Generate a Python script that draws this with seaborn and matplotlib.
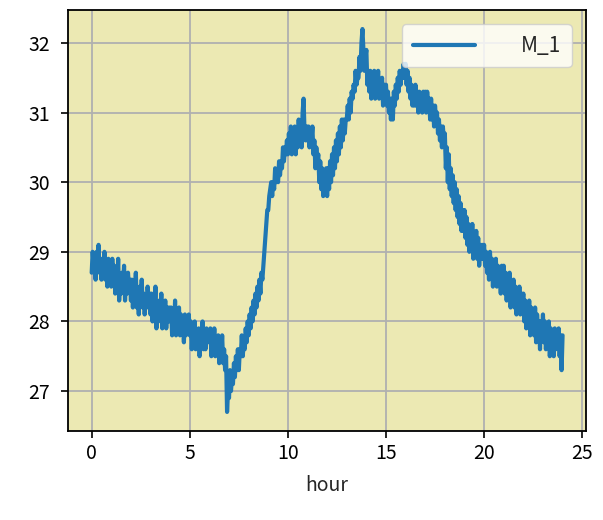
import numpy as np
import matplotlib
matplotlib.use("Agg")
import matplotlib.pyplot as plt
import seaborn as sns

# Temperatura M_1 leída cada 0.05 h (0 .. 24 h)
m1_h00 = [28.7, 29.0, 28.8, 28.9, 28.6, 29.0, 28.8, 29.1, 28.7, 28.9, 28.6, 28.9, 28.7, 29.0, 28.6, 28.8, 28.5, 28.9, 28.7, 28.8]
m1_h01 = [28.5, 28.9, 28.6, 28.8, 28.4, 28.7, 28.5, 28.9, 28.3, 28.6, 28.4, 28.7, 28.5, 28.8, 28.3, 28.6, 28.4, 28.7, 28.5, 28.6]
m1_h02 = [28.3, 28.6, 28.2, 28.5, 28.4, 28.7, 28.2, 28.4, 28.1, 28.5, 28.3, 28.6, 28.2, 28.4, 28.1, 28.3, 28.2, 28.5, 28.3, 28.4]
m1_h03 = [28.1, 28.4, 28.0, 28.3, 28.1, 28.5, 27.9, 28.2, 28.0, 28.3, 28.1, 28.4, 27.9, 28.2, 28.0, 28.3, 27.9, 28.2, 28.0, 28.2]
m1_h04 = [28.0, 28.2, 27.8, 28.1, 27.9, 28.3, 27.8, 28.1, 27.9, 28.2, 27.8, 28.1, 27.9, 28.0, 27.7, 28.1, 27.8, 28.0, 27.9, 28.1]
m1_h05 = [27.8, 28.0, 27.6, 27.9, 27.7, 28.0, 27.6, 27.8, 27.7, 27.9, 27.5, 27.8, 27.7, 28.0, 27.6, 27.8, 27.6, 27.9, 27.7, 27.8]
m1_h06 = [27.7, 27.9, 27.5, 27.8, 27.6, 27.9, 27.5, 27.7, 27.6, 27.8, 27.4, 27.7, 27.5, 27.8, 27.4, 27.6, 27.3, 27.5, 26.7, 27.0]
m1_h07 = [26.9, 27.3, 27.0, 27.2, 27.1, 27.4, 27.2, 27.5, 27.3, 27.6, 27.3, 27.6, 27.5, 27.8, 27.5, 27.7, 27.6, 27.9, 27.7, 28.0]
m1_h08 = [27.8, 28.1, 27.9, 28.2, 28.0, 28.3, 28.1, 28.4, 28.2, 28.5, 28.3, 28.6, 28.4, 28.7, 28.6, 28.8, 29.0, 29.2, 29.4, 29.6]
m1_h09 = [29.6, 29.8, 29.9, 30.0, 29.8, 30.0, 29.9, 30.2, 30.0, 30.1, 30.0, 30.3, 30.1, 30.3, 30.2, 30.5, 30.3, 30.5, 30.4, 30.6]
m1_h10 = [30.4, 30.7, 30.5, 30.8, 30.4, 30.6, 30.5, 30.8, 30.4, 30.7, 30.5, 30.9, 30.6, 30.8, 30.5, 31.0, 31.2, 30.7, 30.6, 30.8]
m1_h11 = [30.6, 30.8, 30.5, 30.7, 30.6, 30.8, 30.4, 30.6, 30.2, 30.5, 30.3, 30.4, 30.0, 30.3, 29.9, 30.2, 29.8, 30.1, 30.0, 30.2]
m1_h12 = [29.8, 30.2, 29.9, 30.3, 30.0, 30.4, 30.1, 30.5, 30.2, 30.6, 30.3, 30.7, 30.4, 30.8, 30.5, 30.9, 30.6, 30.9, 30.7, 30.9]
m1_h13 = [30.9, 31.1, 30.9, 31.2, 31.0, 31.3, 31.2, 31.4, 31.3, 31.6, 31.4, 31.5, 31.5, 31.8, 31.6, 32.0, 32.2, 31.9, 31.6, 31.8]
m1_h14 = [31.9, 31.4, 31.6, 31.3, 31.6, 31.2, 31.5, 31.3, 31.6, 31.2, 31.5, 31.3, 31.6, 31.2, 31.4, 31.3, 31.5, 31.1, 31.4, 31.3]
m1_h15 = [31.4, 31.1, 31.3, 31.0, 31.2, 30.9, 31.2, 30.9, 31.3, 31.1, 31.4, 31.2, 31.5, 31.3, 31.6, 31.4, 31.6, 31.5, 31.7, 31.5]
m1_h16 = [31.7, 31.4, 31.6, 31.3, 31.5, 31.2, 31.4, 31.1, 31.3, 31.1, 31.4, 31.1, 31.3, 31.0, 31.3, 31.1, 31.2, 31.0, 31.3, 31.1]
m1_h17 = [31.3, 31.0, 31.3, 31.1, 31.2, 30.9, 31.2, 30.9, 31.1, 30.8, 31.1, 30.9, 31.0, 30.7, 30.9, 30.6, 30.8, 30.5, 30.8, 30.6]
m1_h18 = [30.7, 30.2, 30.5, 30.0, 30.4, 29.9, 30.2, 29.8, 30.1, 29.7, 30.0, 29.6, 29.9, 29.5, 29.8, 29.4, 29.7, 29.3, 29.6, 29.3]
m1_h19 = [29.6, 29.2, 29.5, 29.1, 29.4, 29.0, 29.3, 29.1, 29.4, 28.9, 29.2, 29.0, 29.3, 28.9, 29.2, 28.8, 29.1, 28.9, 29.1, 28.9]
m1_h20 = [29.1, 28.8, 29.0, 28.7, 28.9, 28.6, 29.0, 28.7, 28.9, 28.5, 28.8, 28.6, 28.9, 28.5, 28.8, 28.6, 28.7, 28.4, 28.8, 28.5]
m1_h21 = [28.8, 28.4, 28.7, 28.3, 28.6, 28.4, 28.7, 28.2, 28.5, 28.3, 28.6, 28.2, 28.5, 28.1, 28.4, 28.2, 28.5, 28.1, 28.4, 28.2]
m1_h22 = [28.4, 28.0, 28.3, 27.9, 28.2, 28.0, 28.3, 27.8, 28.2, 27.9, 28.1, 27.8, 28.2, 27.7, 28.1, 27.9, 28.0, 27.6, 28.0, 27.8]
m1_h23 = [28.1, 27.7, 28.0, 27.6, 27.9, 27.7, 28.0, 27.5, 27.9, 27.6, 27.8, 27.5, 27.9, 27.6, 27.8, 27.7, 27.9, 27.5, 27.8, 27.3]
m1_h24 = [27.8]

m1 = (m1_h00 + m1_h01 + m1_h02 + m1_h03 + m1_h04 + m1_h05 + m1_h06 + m1_h07
      + m1_h08 + m1_h09 + m1_h10 + m1_h11 + m1_h12 + m1_h13 + m1_h14 + m1_h15
      + m1_h16 + m1_h17 + m1_h18 + m1_h19 + m1_h20 + m1_h21 + m1_h22 + m1_h23
      + m1_h24)
hours = np.linspace(0, 24, len(m1))

sns.set_style("ticks")
plt.rcParams['font.family'] = ['Noto Sans CJK JP', 'DejaVu Sans']
plt.rcParams['font.size'] = 14

fig = plt.figure(figsize=(6.03, 5.2), dpi=100)
ax = fig.add_axes([0.113, 0.171, 0.859, 0.810])
ax.set_facecolor('#ece9b3')

sns.lineplot(x=hours, y=m1, ax=ax, color='#1f77b4', linewidth=3, label='M_1')

ax.grid(True, color='#b0b0b0', linewidth=1.3)
ax.set_axisbelow(True)
for s in ax.spines.values():
    s.set_color('black')
    s.set_linewidth(1.3)
ax.tick_params(labelsize=14, length=5, width=1.2, colors='black')
ax.tick_params(axis='y', pad=8)
ax.set_xticks([0, 5, 10, 15, 20, 25])
ax.set_yticks([27, 28, 29, 30, 31, 32])
ax.set_xlabel('hour', fontsize=14, labelpad=8)
ax.set_ylabel('')
ax.legend(loc='upper right', handlelength=3, handletextpad=2.2, fontsize=15,
          framealpha=0.8, borderpad=0.5, borderaxespad=0.7)

fig.savefig('out.png', dpi=100)
